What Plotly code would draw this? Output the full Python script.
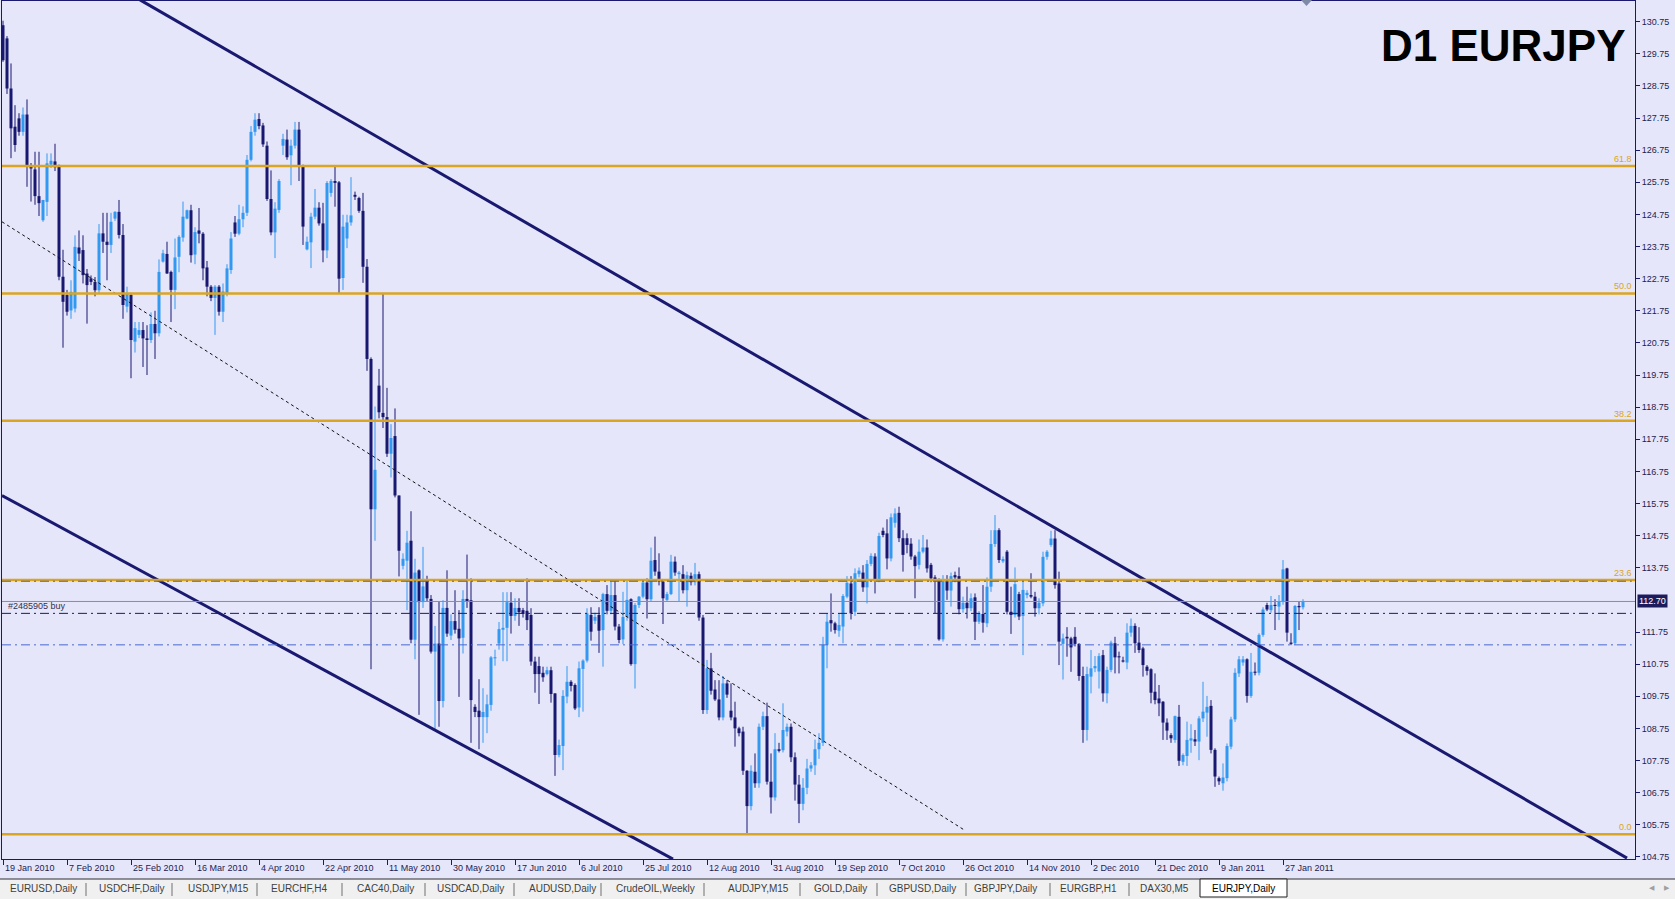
import plotly.graph_objects as go

# ------------------------------------------------------------------ data
# daily bars (MT4 broker with Sunday bars), bar 0 = 19 Jan 2010
open_ = [
    130.64, 130.23, 128.67, 127.48, 127.74, 127.32, 127.86, 126.25, 126.15, 125.32,
    124.57, 125.14, 126.30, 126.40, 126.25, 122.81, 122.24, 121.76, 121.82, 123.72,
    123.64, 122.91, 122.76, 122.65, 122.39, 124.16, 123.90, 123.80, 124.62, 124.83,
    124.11, 121.88, 122.24, 120.79, 121.00, 121.15, 120.89, 120.84, 121.34, 121.05,
    123.28, 123.52, 122.96, 122.40, 123.43, 124.03, 124.62, 124.88, 123.50, 124.25,
    124.15, 123.10, 122.50, 122.15, 122.50, 121.72, 122.30, 123.02, 124.50, 124.15,
    124.60, 124.80, 126.45, 127.32, 127.72, 127.52, 126.89, 125.23, 124.19, 124.89,
    126.89, 127.08, 126.59, 126.89, 127.39, 126.28, 123.66, 123.88, 124.68, 124.96,
    124.47, 123.63, 125.42, 125.79, 125.75, 122.77, 124.00, 124.50, 125.36, 125.26,
    124.86, 123.12, 120.25, 115.57, 119.42, 118.57, 118.44, 117.30, 117.85, 116.00,
    113.81, 113.97, 114.59, 111.51, 113.67, 112.68, 113.36, 112.78, 111.14, 111.39,
    109.60, 112.50, 111.64, 112.09, 111.85, 111.57, 112.78, 112.74, 109.42, 109.30,
    109.10, 109.10, 109.48, 110.93, 111.39, 111.82, 111.88, 112.66, 112.25, 112.50,
    112.43, 112.41, 112.28, 110.83, 110.69, 110.48, 110.44, 110.56, 109.84, 107.92,
    108.20, 109.74, 110.20, 110.10, 109.40, 110.60, 110.86, 112.28, 112.10, 112.28,
    111.81, 112.93, 112.41, 112.90, 111.92, 111.52, 112.22, 112.77, 110.75, 112.59,
    112.85, 113.29, 112.77, 113.99, 113.63, 113.32, 112.75, 112.93, 113.94, 113.55,
    113.55, 113.05, 113.50, 113.30, 113.55, 112.20, 109.32, 110.62, 109.96, 109.65,
    109.09, 110.15, 109.30, 109.09, 108.75, 108.65, 107.43, 106.33, 107.40, 107.04,
    108.80, 109.13, 107.09, 106.60, 108.10, 108.07, 108.65, 108.80, 107.85, 107.00,
    106.40, 106.90, 107.50, 107.60, 108.10, 108.30, 111.35, 112.12, 112.02, 111.79,
    111.92, 112.85, 113.26, 112.38, 113.55, 113.60, 113.14, 113.87, 114.10, 113.35,
    114.90, 114.82, 114.04, 115.15, 115.46, 114.67, 114.67, 114.50, 114.10, 113.84,
    114.25, 114.38, 113.84, 113.45, 113.35, 111.52, 113.37, 113.04, 113.52, 113.49,
    112.46, 112.66, 112.49, 112.83, 112.07, 112.31, 112.02, 113.16, 114.49, 114.92,
    113.95, 114.25, 112.38, 112.28, 112.93, 112.25, 112.90, 112.90, 112.85, 112.49,
    112.64, 114.09, 114.46, 114.66, 113.26, 111.38, 111.60, 111.55, 111.60, 111.38,
    110.38, 108.70, 110.36, 110.62, 110.52, 111.03, 109.84, 110.57, 111.40, 110.98,
    110.86, 110.80, 111.73, 111.94, 111.42, 111.24, 110.67, 110.59, 109.89, 109.68,
    109.58, 108.93, 108.54, 108.39, 109.11, 107.71, 107.89, 108.37, 108.41, 108.34,
    109.06, 109.24, 109.45, 108.08, 107.20, 107.04, 107.20, 108.18, 109.03, 110.46,
    110.80, 110.90, 109.76, 110.51, 110.48, 111.66, 112.59, 112.43, 112.59, 112.54,
    112.70, 113.73, 111.42, 111.40, 112.56, 112.52,
]
high = [
    130.78, 130.30, 129.45, 128.15, 127.90, 128.08, 128.33, 126.35, 126.70, 126.70,
    125.20, 126.65, 126.65, 126.95, 126.30, 123.65, 122.40, 122.70, 124.10, 124.25,
    124.10, 123.05, 122.85, 122.80, 124.45, 124.80, 124.80, 124.80, 124.85, 125.20,
    124.45, 122.50, 122.30, 121.40, 121.40, 121.40, 121.30, 121.70, 121.75, 123.35,
    123.65, 123.90, 123.00, 124.00, 124.10, 125.15, 124.90, 125.05, 124.35, 124.95,
    124.20, 123.30, 122.55, 122.55, 122.55, 122.60, 123.20, 124.20, 124.70, 125.05,
    125.00, 126.60, 127.50, 127.90, 127.90, 127.60, 127.02, 126.12, 125.13, 125.85,
    127.26, 127.39, 127.08, 127.63, 127.63, 126.30, 124.06, 124.80, 125.54, 125.13,
    125.11, 125.79, 125.85, 126.24, 125.79, 124.74, 124.74, 125.91, 125.46, 125.30,
    125.42, 123.36, 120.30, 118.77, 119.94, 122.28, 119.35, 118.22, 118.71, 116.00,
    114.20, 114.90, 115.51, 114.03, 113.70, 114.40, 113.50, 112.90, 111.94, 112.70,
    112.74, 113.67, 112.30, 113.05, 112.43, 113.05, 114.16, 113.42, 109.50, 110.28,
    110.00, 109.80, 111.00, 111.20, 112.06, 112.99, 112.99, 112.99, 112.80, 112.80,
    112.50, 113.42, 112.49, 110.98, 110.98, 110.67, 110.67, 110.67, 109.84, 108.40,
    109.94, 110.69, 110.25, 110.15, 110.83, 110.90, 112.49, 112.52, 112.35, 112.52,
    112.97, 113.21, 113.35, 113.35, 112.00, 113.00, 113.35, 112.80, 112.65, 112.87,
    113.40, 113.42, 114.38, 114.72, 114.20, 113.40, 113.00, 114.15, 114.10, 113.65,
    113.83, 113.63, 113.60, 113.90, 113.63, 112.28, 110.88, 111.10, 110.25, 110.25,
    110.38, 110.25, 110.15, 109.58, 108.80, 108.80, 107.45, 107.60, 107.97, 108.90,
    109.27, 109.55, 107.97, 108.60, 108.30, 109.53, 108.90, 108.90, 108.00, 107.30,
    107.20, 107.80, 107.70, 108.40, 108.60, 111.60, 112.33, 112.95, 112.07, 112.33,
    112.93, 113.49, 113.49, 113.73, 113.76, 113.83, 113.99, 114.20, 114.20, 114.84,
    115.00, 115.26, 115.44, 115.60, 115.65, 114.92, 114.82, 114.67, 114.15, 114.63,
    114.77, 114.63, 113.90, 113.52, 113.42, 113.52, 113.52, 113.60, 113.63, 113.76,
    112.85, 113.16, 112.95, 112.95, 112.40, 113.21, 113.45, 114.92, 115.39, 114.98,
    114.10, 114.30, 113.16, 113.76, 113.00, 113.35, 113.05, 113.58, 113.00, 112.80,
    114.25, 114.30, 114.90, 114.92, 113.63, 111.70, 111.90, 111.60, 111.90, 111.40,
    110.67, 110.67, 111.19, 111.00, 111.09, 111.19, 110.67, 111.48, 111.60, 111.14,
    110.98, 112.02, 112.17, 112.02, 111.90, 111.29, 110.72, 110.62, 110.46, 110.10,
    109.60, 109.06, 108.60, 109.15, 109.48, 107.97, 108.96, 108.88, 108.70, 109.13,
    110.20, 109.76, 109.63, 108.13, 107.25, 107.66, 108.28, 109.11, 110.62, 111.00,
    111.00, 110.93, 111.10, 110.80, 111.71, 112.52, 112.66, 112.87, 112.77, 112.90,
    113.99, 113.75, 111.71, 112.59, 112.70, 112.77,
]
low = [
    129.50, 128.50, 126.50, 126.70, 127.20, 127.20, 125.61, 125.15, 125.05, 124.70,
    124.52, 124.70, 126.20, 126.10, 122.70, 120.60, 121.60, 121.50, 121.70, 123.30,
    122.60, 121.35, 122.55, 122.20, 122.30, 123.55, 122.70, 123.55, 124.55, 124.00,
    121.50, 121.70, 119.65, 120.45, 120.90, 120.00, 119.75, 120.75, 120.25, 120.95,
    123.25, 122.90, 121.40, 121.80, 122.95, 123.90, 124.60, 123.25, 123.20, 123.85,
    122.70, 122.20, 122.05, 121.00, 121.60, 121.40, 122.20, 122.90, 124.05, 124.10,
    124.35, 124.70, 126.40, 127.20, 127.40, 126.85, 125.17, 124.10, 123.39, 124.80,
    126.60, 126.45, 125.66, 126.80, 125.79, 123.80, 123.63, 123.08, 124.60, 124.40,
    123.26, 123.39, 125.30, 124.99, 122.30, 122.40, 123.70, 124.40, 125.20, 124.80,
    122.62, 119.88, 110.59, 114.59, 118.40, 118.10, 117.20, 116.56, 115.94, 113.48,
    113.70, 112.43, 111.40, 110.90, 109.17, 112.50, 112.70, 111.08, 108.70, 108.80,
    109.40, 111.60, 111.50, 111.70, 109.73, 111.08, 112.50, 108.30, 109.10, 108.10,
    108.30, 108.60, 109.30, 110.70, 111.20, 110.84, 110.84, 111.70, 112.10, 111.94,
    112.20, 111.81, 110.70, 109.86, 109.51, 110.20, 110.40, 109.55, 107.27, 107.85,
    107.45, 109.53, 109.90, 109.32, 109.10, 109.27, 110.80, 111.48, 112.00, 111.10,
    110.67, 112.30, 112.30, 111.80, 111.40, 111.37, 112.10, 110.70, 109.99, 112.50,
    112.80, 112.17, 112.70, 113.50, 113.20, 112.00, 112.70, 112.90, 113.50, 112.70,
    112.95, 112.54, 113.20, 113.20, 112.10, 109.20, 109.20, 109.80, 109.60, 109.00,
    109.00, 109.70, 109.00, 108.18, 108.50, 107.30, 105.43, 106.20, 106.90, 106.90,
    108.70, 107.00, 106.10, 106.50, 108.00, 108.00, 108.50, 107.70, 106.50, 105.80,
    106.20, 106.70, 107.40, 107.30, 107.80, 108.20, 110.62, 111.76, 111.70, 111.60,
    111.40, 112.80, 112.14, 112.25, 113.45, 113.00, 112.64, 113.80, 112.95, 113.30,
    114.70, 113.70, 113.95, 115.00, 114.55, 113.63, 114.20, 114.00, 112.80, 113.70,
    114.20, 113.60, 113.30, 112.33, 111.48, 111.45, 112.75, 112.54, 113.30, 112.30,
    112.35, 112.17, 112.40, 111.50, 112.00, 111.73, 111.90, 113.00, 114.40, 113.90,
    113.90, 112.30, 111.69, 112.20, 112.12, 111.03, 112.80, 112.80, 112.23, 112.30,
    112.55, 114.00, 114.40, 113.10, 110.72, 110.27, 110.98, 110.51, 111.30, 110.23,
    108.30, 108.37, 109.84, 110.50, 109.99, 109.58, 109.53, 110.50, 110.46, 110.46,
    110.80, 110.59, 111.60, 111.10, 111.10, 110.36, 110.40, 109.53, 109.50, 109.13,
    108.39, 108.39, 108.30, 108.30, 107.58, 107.60, 107.58, 107.99, 108.20, 107.76,
    108.95, 108.49, 107.97, 106.93, 106.99, 106.81, 107.10, 108.10, 108.95, 110.35,
    110.70, 109.55, 109.70, 110.40, 110.40, 111.60, 112.40, 112.35, 111.81, 112.12,
    112.60, 111.45, 111.34, 111.35, 111.81, 112.45,
]
close = [
    129.55, 128.67, 127.43, 126.91, 127.32, 127.86, 126.23, 126.18, 125.32, 125.10,
    125.20, 126.34, 126.42, 126.22, 122.81, 122.03, 121.72, 122.34, 123.74, 123.53,
    122.86, 122.55, 122.65, 122.39, 124.16, 123.90, 123.80, 124.52, 124.83, 124.11,
    121.93, 122.30, 120.84, 121.21, 121.15, 120.89, 120.84, 121.34, 121.05, 122.96,
    123.54, 122.91, 122.40, 123.41, 124.05, 124.68, 124.88, 123.48, 124.20, 124.15,
    123.07, 122.50, 122.15, 122.50, 121.72, 122.35, 123.07, 124.00, 124.15, 124.60,
    124.80, 126.45, 127.32, 127.70, 127.50, 126.93, 125.23, 124.19, 124.93, 125.79,
    127.10, 126.53, 126.89, 127.39, 126.28, 124.37, 123.90, 124.68, 124.96, 124.47,
    123.63, 125.73, 125.79, 125.73, 122.75, 124.37, 124.50, 124.72, 125.30, 124.86,
    123.12, 120.25, 115.57, 116.80, 118.59, 118.44, 117.30, 117.79, 116.00, 114.28,
    114.03, 114.53, 111.51, 113.60, 112.68, 113.17, 112.80, 111.14, 111.39, 109.60,
    112.50, 111.70, 112.09, 111.82, 111.55, 112.78, 112.70, 109.63, 109.26, 109.10,
    109.26, 109.50, 110.96, 110.96, 111.84, 111.88, 112.68, 112.25, 112.50, 112.37,
    112.31, 112.12, 110.83, 110.44, 110.44, 110.34, 110.56, 109.82, 107.92, 108.23,
    109.76, 110.20, 110.07, 109.37, 110.62, 110.86, 112.33, 111.76, 112.22, 111.79,
    112.93, 112.41, 112.90, 111.92, 111.50, 112.22, 112.75, 110.75, 112.59, 112.85,
    113.29, 112.77, 113.97, 113.63, 113.32, 112.80, 112.93, 113.94, 113.60, 113.60,
    113.05, 113.52, 113.30, 113.55, 112.20, 109.32, 110.62, 109.92, 109.65, 109.09,
    110.15, 109.80, 109.09, 108.75, 108.60, 107.43, 106.33, 107.43, 107.04, 108.80,
    109.13, 107.09, 106.60, 108.10, 108.05, 108.70, 108.80, 107.85, 107.00, 106.40,
    106.90, 107.50, 107.60, 108.10, 108.30, 111.35, 112.07, 112.02, 111.81, 111.97,
    112.87, 113.28, 112.33, 113.58, 113.66, 113.14, 113.87, 114.12, 113.35, 114.74,
    114.77, 114.04, 115.32, 115.44, 114.67, 114.15, 114.46, 114.10, 113.80, 114.25,
    114.38, 113.73, 113.42, 113.35, 111.52, 113.37, 113.04, 113.49, 113.45, 112.46,
    112.66, 112.49, 112.80, 112.07, 112.33, 112.04, 113.16, 114.49, 114.92, 113.99,
    114.02, 112.38, 112.28, 113.24, 112.23, 113.06, 112.97, 112.85, 112.49, 112.66,
    114.09, 114.25, 114.66, 113.21, 111.45, 111.55, 111.55, 111.27, 111.38, 110.38,
    108.70, 110.44, 110.62, 110.69, 111.00, 109.84, 110.57, 111.42, 110.96, 110.96,
    110.83, 111.73, 111.94, 111.40, 111.19, 110.72, 110.54, 109.86, 109.63, 109.53,
    108.93, 108.68, 108.44, 109.13, 107.74, 107.92, 108.39, 108.44, 108.34, 109.06,
    109.27, 109.42, 108.08, 107.25, 107.10, 107.22, 108.20, 109.03, 110.48, 110.90,
    110.90, 109.76, 110.51, 110.48, 111.66, 112.45, 112.45, 112.59, 112.56, 112.70,
    113.70, 111.73, 111.38, 112.56, 112.52, 112.70,
]

date_labels = ["19 Jan 2010", "7 Feb 2010", "25 Feb 2010", "16 Mar 2010", "4 Apr 2010",
               "22 Apr 2010", "11 May 2010", "30 May 2010", "17 Jun 2010", "6 Jul 2010",
               "25 Jul 2010", "12 Aug 2010", "31 Aug 2010", "19 Sep 2010", "7 Oct 2010",
               "26 Oct 2010", "14 Nov 2010", "2 Dec 2010", "21 Dec 2010", "9 Jan 2011",
               "27 Jan 2011"]
date_label_bars = [0, 16, 32, 48, 64, 80, 96, 112, 128, 144, 160, 176, 192, 208, 224,
                   240, 256, 272, 288, 304, 320]

price_ticks = [130.75, 129.75, 128.75, 127.75, 126.75, 125.75, 124.75, 123.75, 122.75,
               121.75, 120.75, 119.75, 118.75, 117.75, 116.75, 115.75, 114.75, 113.75,
               111.75, 110.75, 109.75, 108.75, 107.75, 106.75, 105.75, 104.75]

fib_names = ["61.8", "50.0", "38.2", "23.6", "0.0"]
fib_prices = [126.26, 122.29, 118.33, 113.37, 105.45]

last_price = 112.70
order_label = "#2485905 buy"
order_price = 112.33
stop_price = 111.35
target_price = 113.33

# trend lines: (bar index, price) end points
upper_trend_x = [34.25, 406.0]
upper_trend_y = [131.43, 104.71]
lower_trend_x = [-0.25, 167.5]
lower_trend_y = [116.00, 104.68]
mid_dotted_x = [-0.25, 240.4]
mid_dotted_y = [124.52, 105.58]

tab_names = ["EURUSD,Daily", "USDCHF,Daily", "USDJPY,M15", "EURCHF,H4", "CAC40,Daily",
             "USDCAD,Daily", "AUDUSD,Daily", "CrudeOIL,Weekly", "AUDJPY,M15", "GOLD,Daily",
             "GBPUSD,Daily", "GBPJPY,Daily", "EURGBP,H1", "DAX30,M5", "EURJPY,Daily"]

# ------------------------------------------------------------------ style
W, H = 1675, 899
ML, MR, MT, MB = 2, 40, 1, 40
PW, PH = W - ML - MR, H - MT - MB
BG = "#E6E6FA"
NAVY = "#191970"
UP = "#3399F0"
GOLD = "#DAA520"
FONT = "Liberation Sans"


def px_x(x):
    return (x - ML) / PW


def px_y(y):
    return (H - MB - y) / PH


n = len(open_)
idx = list(range(n))
up_mask = [close[i] >= open_[i] for i in idx]

fig = go.Figure()

# candle bodies
body_base = [min(open_[i], close[i]) for i in idx]
body_h = [max(abs(close[i] - open_[i]), 0.035) for i in idx]
fig.add_trace(go.Bar(
    x=idx, y=body_h, base=body_base, width=0.75,
    marker=dict(color=[UP if u else NAVY for u in up_mask], line=dict(width=0)),
    hoverinfo="skip"))

# wicks
for is_up, col in ((True, UP), (False, NAVY)):
    wx, wy = [], []
    for i in idx:
        if up_mask[i] == is_up:
            wx += [i, i, None]
            wy += [low[i], high[i], None]
    fig.add_trace(go.Scatter(x=wx, y=wy, mode="lines", line=dict(color=col, width=1),
                             hoverinfo="skip"))

# trend lines
fig.add_trace(go.Scatter(x=mid_dotted_x, y=mid_dotted_y, mode="lines",
                         line=dict(color="#101010", width=1, dash="3px,3px"), hoverinfo="skip"))
fig.add_trace(go.Scatter(x=upper_trend_x, y=upper_trend_y, mode="lines",
                         line=dict(color=NAVY, width=3), hoverinfo="skip"))
fig.add_trace(go.Scatter(x=lower_trend_x, y=lower_trend_y, mode="lines",
                         line=dict(color=NAVY, width=3), hoverinfo="skip"))

shapes = []
annotations = []

# fibonacci levels
for name, lvl in zip(fib_names, fib_prices):
    shapes.append(dict(type="line", xref="paper", x0=0, x1=1, yref="y", y0=lvl, y1=lvl,
                       line=dict(color=GOLD, width=2.5)))
    annotations.append(dict(xref="paper", x=1, xanchor="right", xshift=-1,
                            yref="y", y=lvl, yanchor="bottom", yshift=0,
                            text=name, showarrow=False,
                            font=dict(family=FONT, size=9, color=GOLD)))

# order lines
shapes.append(dict(type="line", xref="paper", x0=0, x1=0.998, yref="y", y0=target_price,
                   y1=target_price, line=dict(color="#606070", width=1, dash="9px,4px,2px,4px")))
shapes.append(dict(type="line", xref="paper", x0=0, x1=1, yref="y", y0=last_price,
                   y1=last_price, line=dict(color="#8a8aa6", width=1)))
shapes.append(dict(type="line", xref="paper", x0=0, x1=0.998, yref="y", y0=order_price,
                   y1=order_price, line=dict(color=NAVY, width=1, dash="9px,4px,2px,4px")))
shapes.append(dict(type="line", xref="paper", x0=0, x1=0.998, yref="y", y0=stop_price,
                   y1=stop_price, line=dict(color="#4a6ad0", width=1, dash="9px,4px,2px,4px")))
annotations.append(dict(xref="paper", x=px_x(6), xanchor="left", yref="y", y=order_price,
                        yanchor="bottom", yshift=0, text=order_label, showarrow=False,
                        font=dict(family=FONT, size=9, color="#303050")))

# last price box on the axis
annotations.append(dict(xref="paper", x=px_x(1637), xanchor="left", yref="y", y=last_price,
                        yanchor="middle", text="112.70", showarrow=False, bgcolor="#1c1c5c",
                        borderpad=1, font=dict(family=FONT, size=9, color="white")))

# title
annotations.append(dict(xref="paper", x=px_x(1628), xanchor="right", yref="paper",
                        y=px_y(46), yanchor="middle", text="<b>D1 EURJPY</b>",
                        showarrow=False, font=dict(family=FONT, size=44, color="black")))

# date labels
for b, lab in zip(date_label_bars, date_labels):
    annotations.append(dict(xref="x", x=b, xanchor="left", xshift=0, yref="paper",
                            y=px_y(868), yanchor="middle", text=lab, showarrow=False,
                            font=dict(family=FONT, size=9, color="#1c1c50")))

# chart-shift marker
shapes.append(dict(type="path", xref="paper", yref="paper",
                   path="M {a},{t} L {b},{t} L {c},{m} Z".format(
                       a=px_x(1301), b=px_x(1312), c=px_x(1306.5), t=px_y(0), m=px_y(6)),
                   fillcolor="#7f8aa8", line=dict(width=0)))

# tab strip
shapes.append(dict(type="rect", xref="paper", yref="paper", x0=px_x(0), x1=px_x(W),
                   y0=px_y(H), y1=px_y(879), fillcolor="#F0F0F0", line=dict(width=0)))
shapes.append(dict(type="line", xref="paper", yref="paper", x0=px_x(0), x1=px_x(W),
                   y0=px_y(879), y1=px_y(879), line=dict(color="#303030", width=1)))
tab_centers = [43, 132, 218, 299, 385, 470, 562, 655, 758, 840, 922, 1006, 1088, 1164, 1243]
tab_seps = [86, 172, 257, 342, 425, 514, 601, 704, 800, 877, 966, 1050, 1129]
for sx in tab_seps:
    shapes.append(dict(type="line", xref="paper", yref="paper", x0=px_x(sx), x1=px_x(sx),
                       y0=px_y(883), y1=px_y(896), line=dict(color="#707070", width=1)))
shapes.append(dict(type="rect", xref="paper", yref="paper", x0=px_x(1200), x1=px_x(1287),
                   y0=px_y(897), y1=px_y(879), fillcolor="white",
                   line=dict(color="#202020", width=1)))
for cx, name in zip(tab_centers, tab_names):
    annotations.append(dict(xref="paper", x=px_x(cx), xanchor="center", yref="paper",
                            y=px_y(888), yanchor="middle", text=name, showarrow=False,
                            font=dict(family=FONT, size=10,
                                      color="black" if name == "EURJPY,Daily" else "#404040")))
for cx, sym in ((1652, "◀"), (1667, "▶")):
    annotations.append(dict(xref="paper", x=px_x(cx), xanchor="center", yref="paper",
                            y=px_y(888), yanchor="middle", text=sym, showarrow=False,
                            font=dict(family="DejaVu Sans", size=7, color="#a0a0a0")))

fig.update_layout(
    width=W, height=H,
    margin=dict(l=ML, r=MR, t=MT, b=MB, pad=0),
    paper_bgcolor=BG, plot_bgcolor=BG,
    showlegend=False, hovermode=False, barmode="overlay",
    shapes=shapes, annotations=annotations,
    xaxis=dict(range=[-0.25, 408], showgrid=False, zeroline=False, showline=True,
               mirror=True, linecolor=NAVY, linewidth=1, ticks="outside", ticklen=5,
               tickcolor=NAVY, tickvals=date_label_bars, showticklabels=False, fixedrange=True),
    yaxis=dict(range=[104.683, 131.394], side="right", showgrid=False, zeroline=False,
               showline=True, mirror=True, linecolor=NAVY, linewidth=1,
               ticks="outside", ticklen=4, tickcolor=NAVY,
               tickvals=price_ticks, ticktext=["%.2f" % v for v in price_ticks],
               tickfont=dict(family=FONT, size=9, color="#1c1c50"), fixedrange=True),
)

fig.write_html(
    "out.html",
    config={"displayModeBar": False, "staticPlot": True},
    post_script="document.body.style.margin='0';document.body.style.overflow='hidden';",
)
